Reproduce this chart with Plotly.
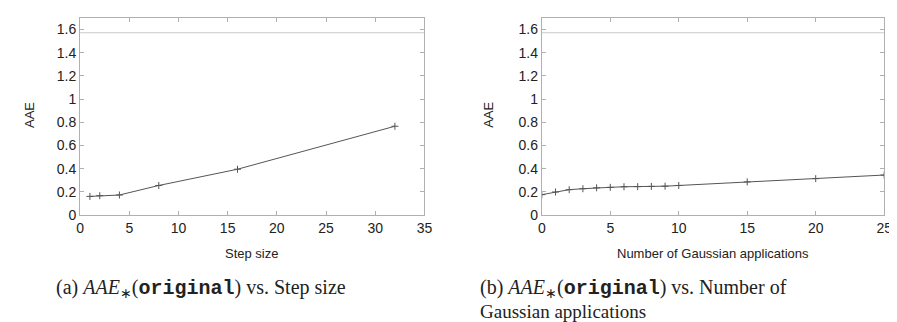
import plotly.graph_objects as go

# ---- data ----
step_size = [1, 2, 4, 8, 16, 32]
aae_step = [0.162, 0.168, 0.174, 0.256, 0.396, 0.766]

gauss_apps = [0, 1, 2, 3, 4, 5, 6, 7, 8, 9, 10, 15, 20, 25]
aae_gauss = [0.177, 0.200, 0.220, 0.228, 0.236, 0.240, 0.245, 0.246, 0.248, 0.250, 0.256, 0.287, 0.315, 0.346]

baseline_aae = 1.5708  # AAE of original (reference line)

x_ticks_left = [0, 5, 10, 15, 20, 25, 30, 35]
x_ticks_right = [0, 5, 10, 15, 20, 25]
y_ticks = [0, 0.2, 0.4, 0.6, 0.8, 1, 1.2, 1.4, 1.6]
y_tick_text = ["0", "0.2", "0.4", "0.6", "0.8", "1", "1.2", "1.4", "1.6"]

W, H = 897, 322
LINE = "#555555"
BORDER = "#b0b0b0"
TXT = "#222222"
SANS = "Liberation Sans, Arial, sans-serif"
SERIF = "Liberation Serif, Times New Roman, serif"
MONO = "Liberation Mono, Courier New, monospace"

fig = go.Figure()

fig.add_trace(go.Scatter(
    x=step_size, y=aae_step, mode="lines+markers",
    line=dict(color=LINE, width=1),
    marker=dict(symbol="cross-thin-open", size=5, line=dict(color=LINE, width=1)),
    xaxis="x", yaxis="y", showlegend=False))
fig.add_trace(go.Scatter(
    x=[0, 35], y=[baseline_aae, baseline_aae], mode="lines",
    line=dict(color="#c8c8c8", width=1), xaxis="x", yaxis="y", showlegend=False))

fig.add_trace(go.Scatter(
    x=gauss_apps, y=aae_gauss, mode="lines+markers",
    line=dict(color=LINE, width=1),
    marker=dict(symbol="cross-thin-open", size=5, line=dict(color=LINE, width=1)),
    xaxis="x2", yaxis="y2", showlegend=False))
fig.add_trace(go.Scatter(
    x=[0, 25], y=[baseline_aae, baseline_aae], mode="lines",
    line=dict(color="#c8c8c8", width=1), xaxis="x2", yaxis="y2", showlegend=False))

def px_x(a, b):
    return [a / W, b / W]

def px_y(top, bottom):
    return [1 - bottom / H, 1 - top / H]

axis_common = dict(
    showgrid=False, zeroline=False, showline=True, linecolor=BORDER, linewidth=1,
    mirror="ticks", ticks="inside", ticklen=4, tickcolor=BORDER, tickwidth=1,
    tickfont=dict(family=SANS, size=14, color=TXT),
)

fig.update_layout(
    width=W, height=H, margin=dict(l=0, r=0, t=0, b=0),
    paper_bgcolor="white", plot_bgcolor="white",
    xaxis=dict(domain=px_x(69, 418), range=[0, 35], tickvals=x_ticks_left,
               anchor="y", **axis_common),
    yaxis=dict(domain=px_y(10, 212.5), range=[0, 1.7], tickvals=y_ticks,
               ticktext=y_tick_text, anchor="x", **axis_common),
    xaxis2=dict(domain=px_x(537, 884), range=[0, 25], tickvals=x_ticks_right,
                anchor="y2", **axis_common),
    yaxis2=dict(domain=px_y(10, 212.5), range=[0, 1.7], tickvals=y_ticks,
                ticktext=y_tick_text, anchor="x2", **axis_common),
)

def ann(text, x, y, size, family, xanchor="center", textangle=0):
    fig.add_annotation(text=text, x=x / W, y=1 - y / H, xref="paper", yref="paper",
                       showarrow=False, xanchor=xanchor, yanchor="middle",
                       textangle=textangle,
                       font=dict(family=family, size=size, color=TXT))

# axis titles
ann("AAE", 17, 110, 13, SANS, textangle=-90)
ann("AAE", 483, 110, 13, SANS, textangle=-90)
ann("Step size", 243, 252, 13, SANS)
ann("Number of Gaussian applications", 710, 252, 13, SANS)

# captions
mono = "<span style='font-family:" + MONO + "'><b>original</b></span>"
cap_a = "(a) <i>AAE</i><sub>∗</sub>(" + mono + ") vs. Step size"
cap_b1 = "(b) <i>AAE</i><sub>∗</sub>(" + mono + ") vs. Number of"
ann(cap_a, 43, 288, 20, SERIF, xanchor="left")
ann(cap_b1, 472, 288, 20, SERIF, xanchor="left")
ann("Gaussian applications", 472, 311, 19, SERIF, xanchor="left")

fig.write_html("out.html")
